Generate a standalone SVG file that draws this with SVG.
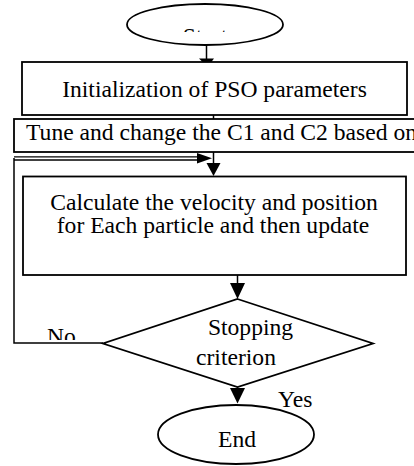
<svg xmlns="http://www.w3.org/2000/svg" width="414" height="466" viewBox="0 0 414 466">
<style>
.s{fill:none;stroke:#000;stroke-width:1.8}
.b{fill:#fff;stroke:#000;stroke-width:1.8}
.l{fill:none;stroke:#000;stroke-width:1.5}
.t{font-family:"Liberation Serif","Times New Roman",serif;font-size:23.6px;fill:#000}
.m{text-anchor:middle}
.h{fill:#000;stroke:none}
</style>
<defs>
<clipPath id="cs"><rect x="0" y="0" width="414" height="32"/></clipPath>
<clipPath id="cn"><rect x="0" y="0" width="414" height="340"/></clipPath>
</defs>
<rect width="414" height="466" fill="#fff"/>
<g id="connectors">
<line class="l" x1="206.5" y1="45" x2="206.5" y2="59"/>
<polygon class="h" points="199,58.5 214,58.5 211,62.5 203,62.5"/>
<line class="l" x1="213.5" y1="115" x2="213.5" y2="119"/>
<line class="l" x1="213.5" y1="152" x2="213.5" y2="164"/>
<polygon class="h" points="206.5,163 220.5,163 213.5,176"/>
<polyline class="l" points="103,343 14,343 14,158"/>
<line x1="14" y1="156.8" x2="200" y2="156.8" stroke="#000" stroke-width="1.3"/>
<line x1="14" y1="160" x2="200" y2="160" stroke="#000" stroke-width="1.3"/>
<polygon class="h" points="197,153 212,158.3 197,163.5"/>
<line class="l" x1="237.5" y1="275" x2="237.5" y2="284"/>
<polygon class="h" points="230,283 245,283 237.5,299"/>
<line class="l" x1="237.5" y1="387" x2="237.5" y2="389"/>
<polygon class="h" points="230,388 245,388 237.5,403.5"/>
</g>
<g id="start">
<ellipse class="b" cx="205" cy="24.5" rx="78" ry="20.5"/>
<text class="t m" x="205" y="43.5" clip-path="url(#cs)">Start</text>
</g>
<g id="init">
<rect class="b" x="22" y="62" width="385" height="53"/>
<text class="t m" x="214.5" y="96.5">Initialization of PSO parameters</text>
</g>
<g id="tune">
<rect class="b" x="14" y="119" width="420" height="33"/>
<text class="t" x="26" y="139.5">Tune and change the C1 and C2 based on</text>
</g>
<g id="calc">
<rect class="b" x="23" y="176.5" width="383" height="98.5"/>
<text class="t m" x="214" y="209.5">Calculate the velocity and position</text>
<text class="t m" x="213" y="233">for Each particle and then update</text>
</g>
<g id="decision">
<polygon class="b" points="237.5,299 373,343.5 237.5,387 103,343.5"/>
<text class="t m" x="250.5" y="335">Stopping</text>
<text class="t m" x="236" y="365">criterion</text>
</g>
<g id="labels">
<text class="t" x="47" y="343.6" clip-path="url(#cn)">No</text>
<text class="t" x="278" y="407">Yes</text>
</g>
<g id="end">
<ellipse class="b" cx="236" cy="434.5" rx="78" ry="29.5"/>
<text class="t m" x="237" y="447">End</text>
</g>
</svg>
